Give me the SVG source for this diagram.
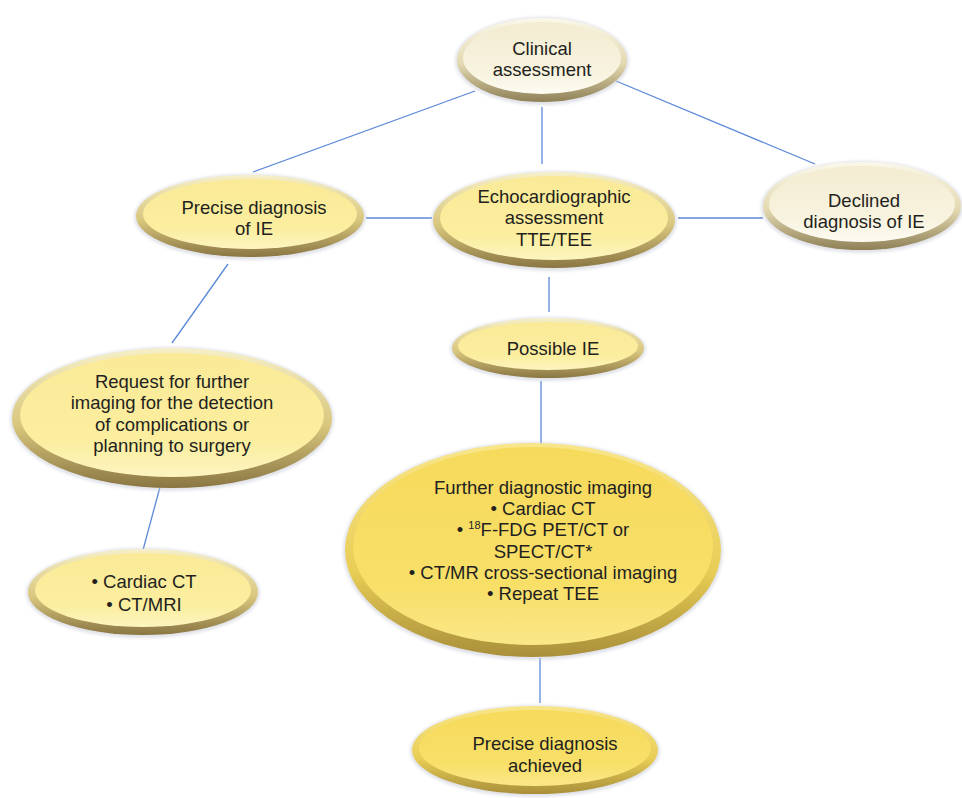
<svg xmlns="http://www.w3.org/2000/svg" width="962" height="798" viewBox="0 0 962 798">
  <defs>
    <!-- bevelled rim: light on top, dark gold at the bottom -->
    <linearGradient id="rimGold" x1="0" y1="0" x2="0" y2="1">
      <stop offset="0" stop-color="#f6efc8"/>
      <stop offset="0.55" stop-color="#d9c77e"/>
      <stop offset="1" stop-color="#8a7642"/>
    </linearGradient>
    <linearGradient id="rimCream" x1="0" y1="0" x2="0" y2="1">
      <stop offset="0" stop-color="#fbf8ea"/>
      <stop offset="0.55" stop-color="#e2d8b0"/>
      <stop offset="1" stop-color="#8f8056"/>
    </linearGradient>
    <linearGradient id="rimDeep" x1="0" y1="0" x2="0" y2="1">
      <stop offset="0" stop-color="#f9e68a"/>
      <stop offset="0.6" stop-color="#e8cd55"/>
      <stop offset="1" stop-color="#a98f3a"/>
    </linearGradient>
    <!-- face fills -->
    <linearGradient id="faceGold" x1="0" y1="0" x2="0" y2="1">
      <stop offset="0" stop-color="#faea98"/>
      <stop offset="0.7" stop-color="#fbee9e"/>
      <stop offset="1" stop-color="#fdf4c0"/>
    </linearGradient>
    <linearGradient id="faceCream" x1="0" y1="0" x2="0" y2="1">
      <stop offset="0" stop-color="#f3ecd2"/>
      <stop offset="0.7" stop-color="#f8f3df"/>
      <stop offset="1" stop-color="#fdfbf2"/>
    </linearGradient>
    <linearGradient id="faceDeep" x1="0" y1="0" x2="0" y2="1">
      <stop offset="0" stop-color="#f6da5c"/>
      <stop offset="0.7" stop-color="#f8df68"/>
      <stop offset="1" stop-color="#fae788"/>
    </linearGradient>
    <filter id="soft" x="-10%" y="-10%" width="120%" height="130%">
      <feGaussianBlur stdDeviation="1.5"/>
    </filter>
  </defs>
  <style>
    .edge { stroke: #5b89d8; stroke-width: 1.3; fill: none; }
    .halo { fill: #c8cbd6; opacity: 0.55; filter: url(#soft); }
    .rim-gold { fill: url(#rimGold); }
    .rim-cream { fill: url(#rimCream); }
    .rim-deep { fill: url(#rimDeep); }
    .face-gold { fill: url(#faceGold); }
    .face-cream { fill: url(#faceCream); }
    .face-deep { fill: url(#faceDeep); }
    text { font-family: "Liberation Sans", Arial, sans-serif; font-size: 18.5px; fill: #231f20; text-anchor: middle; }
    .sup { font-size: 11px; }
  </style>

  <rect width="962" height="798" fill="#ffffff"/>

  <g id="connectors">
    <line class="edge" x1="475" y1="91" x2="253" y2="172"/>
    <line class="edge" x1="542" y1="107" x2="542" y2="164"/>
    <line class="edge" x1="616" y1="81" x2="815" y2="164"/>
    <line class="edge" x1="366" y1="218" x2="432" y2="218"/>
    <line class="edge" x1="678" y1="218" x2="763" y2="218"/>
    <line class="edge" x1="549" y1="277" x2="549" y2="312"/>
    <line class="edge" x1="541" y1="381" x2="541" y2="445"/>
    <line class="edge" x1="228" y1="264" x2="172" y2="343"/>
    <line class="edge" x1="160" y1="487" x2="143" y2="550"/>
    <line class="edge" x1="540" y1="658" x2="540" y2="703"/>
  </g>

  <g id="clinical">
    <ellipse class="halo" cx="542" cy="61" rx="87" ry="44"/>
    <ellipse class="rim-cream" cx="542" cy="60" rx="85" ry="42"/>
    <ellipse class="face-cream" cx="542" cy="58" rx="79" ry="36"/>
    <text x="542" y="55">Clinical</text>
    <text x="542" y="76">assessment</text>
  </g>

  <g id="precise">
    <ellipse class="halo" cx="250" cy="217" rx="116" ry="43"/>
    <ellipse class="rim-gold" cx="250" cy="216" rx="114" ry="41"/>
    <ellipse class="face-gold" cx="250" cy="214" rx="107" ry="35"/>
    <text x="254" y="214">Precise diagnosis</text>
    <text x="254" y="235">of IE</text>
  </g>

  <g id="echo">
    <ellipse class="halo" cx="554" cy="221" rx="123" ry="50"/>
    <ellipse class="rim-gold" cx="554" cy="220" rx="121" ry="48"/>
    <ellipse class="face-gold" cx="554" cy="218" rx="114" ry="42"/>
    <text x="554" y="203">Echocardiographic</text>
    <text x="554" y="224">assessment</text>
    <text x="554" y="246">TTE/TEE</text>
  </g>

  <g id="declined">
    <ellipse class="halo" cx="862" cy="207" rx="101" ry="46"/>
    <ellipse class="rim-cream" cx="862" cy="206" rx="99" ry="44"/>
    <ellipse class="face-cream" cx="862" cy="204" rx="93" ry="38"/>
    <text x="864" y="207">Declined</text>
    <text x="864" y="228">diagnosis of IE</text>
  </g>

  <g id="possible">
    <ellipse class="halo" cx="548" cy="349" rx="98" ry="32"/>
    <ellipse class="rim-gold" cx="548" cy="348" rx="96" ry="30"/>
    <ellipse class="face-gold" cx="548" cy="346" rx="90" ry="24"/>
    <text x="553" y="355">Possible IE</text>
  </g>

  <g id="request">
    <ellipse class="halo" cx="172" cy="419" rx="162" ry="72"/>
    <ellipse class="rim-gold" cx="172" cy="418" rx="160" ry="70"/>
    <ellipse class="face-gold" cx="172" cy="415" rx="152" ry="62"/>
    <text x="172" y="388">Request for further</text>
    <text x="172" y="409">imaging for the detection</text>
    <text x="172" y="431">of complications or</text>
    <text x="172" y="452">planning to surgery</text>
  </g>

  <g id="cardiac">
    <ellipse class="halo" cx="143" cy="593" rx="117" ry="45"/>
    <ellipse class="rim-gold" cx="143" cy="592" rx="115" ry="43"/>
    <ellipse class="face-gold" cx="143" cy="590" rx="108" ry="37"/>
    <text x="144" y="588">• Cardiac CT</text>
    <text x="144" y="611">• CT/MRI</text>
  </g>

  <g id="further">
    <ellipse class="halo" cx="533" cy="551" rx="190" ry="109"/>
    <ellipse class="rim-deep" cx="533" cy="550" rx="188" ry="107"/>
    <ellipse class="face-deep" cx="533" cy="546" rx="180" ry="99"/>
    <text x="543" y="494">Further diagnostic imaging</text>
    <text x="543" y="515">• Cardiac CT</text>
    <text x="543" y="536">• <tspan class="sup" dy="-7">18</tspan><tspan dy="7">F-FDG PET/CT or</tspan></text>
    <text x="543" y="558">SPECT/CT*</text>
    <text x="543" y="579">• CT/MR cross-sectional imaging</text>
    <text x="543" y="600">• Repeat TEE</text>
  </g>

  <g id="achieved">
    <ellipse class="halo" cx="535" cy="751" rx="125" ry="46"/>
    <ellipse class="rim-deep" cx="535" cy="750" rx="123" ry="44"/>
    <ellipse class="face-deep" cx="535" cy="748" rx="116" ry="38"/>
    <text x="545" y="750">Precise diagnosis</text>
    <text x="545" y="772">achieved</text>
  </g>
</svg>
